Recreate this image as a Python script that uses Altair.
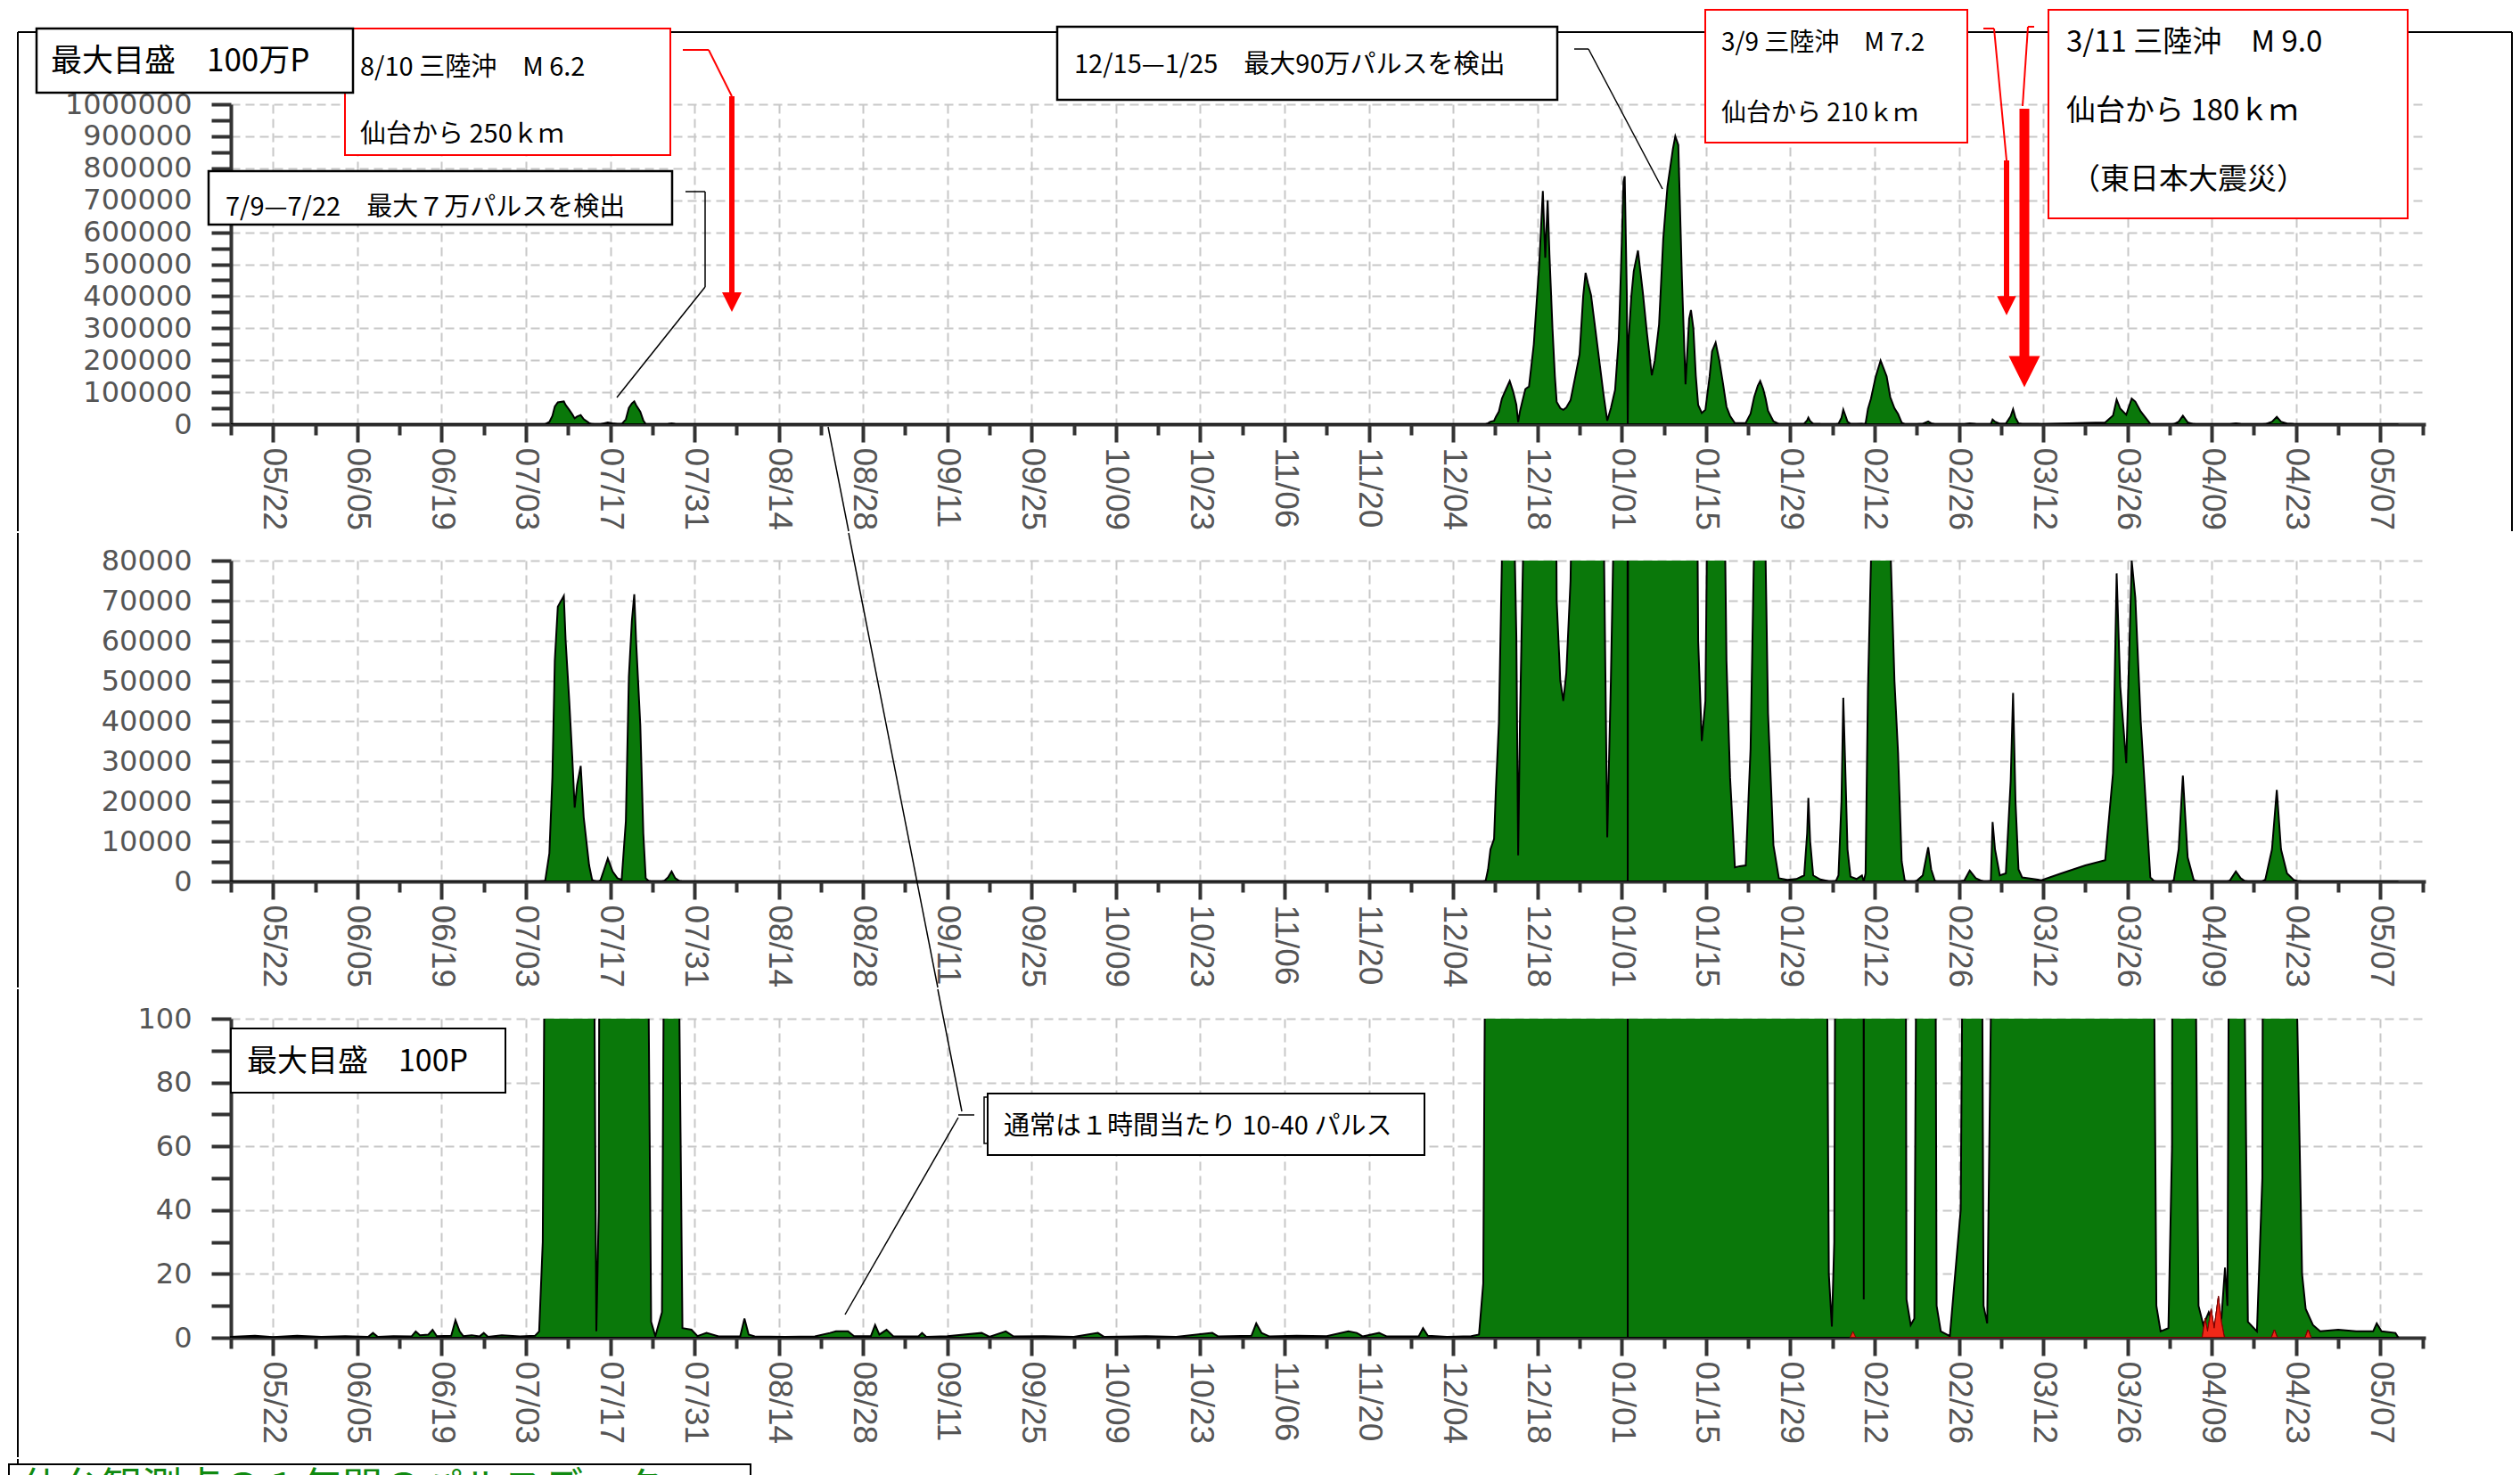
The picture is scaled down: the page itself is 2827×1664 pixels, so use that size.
import altair as alt
import pandas as pd

# ---------------- data (days counted from 2010-05-22, hourly pulse counts) ----------------
BASE_DATE = "2010-05-22"

EARLY_DAYS = [-7, -3, 0, 4, 8, 12, 15.8, 16.6, 17.4, 20, 23.0, 23.7, 24.4, 25.8, 26.5,
              27.2, 29.6, 30.3, 31.0, 31.6, 33.0, 34.3, 35.0, 35.7, 38.0, 41.0, 43.5, 44.2, 44.8]
EARLY_PULSES = [0.3, 0.6, 0.2, 0.6, 0.3, 0.5, 0.3, 1.5, 0.3, 0.5, 0.4, 2, 0.8, 1.0, 2.5,
                0.5, 0.6, 5.5, 2.0, 0.5, 0.8, 0.4, 1.5, 0.3, 0.8, 0.4, 0.6, 2.0, 30]

JULY_DAYS = [45.2, 45.9, 46.4, 46.8, 47.3, 48.3, 48.6, 49.2, 49.7, 50.1,
             50.5, 51.1, 51.6, 52.5, 53.0, 53.4, 53.7, 54.1, 54.4, 55.0,
             55.6, 56.4, 57.2, 57.9, 58.6, 59.1, 59.6, 60.0, 60.3, 61.0,
             61.5, 61.9, 62.4, 62.8, 63.5, 64.6, 65.0, 65.6, 66.2, 66.8, 67.5, 68.0]
JULY_PULSES = [150, 7000, 26000, 55000, 68500, 71200, 60000, 45000, 31000, 18400,
               24000, 28800, 16000, 4000, 400, 100, 2, 40, 300, 3000,
               5700, 2500, 800, 400, 15000, 51000, 65000, 71600, 60000, 39000,
               12000, 800, 100, 5, 0.5, 8, 150, 1000, 2500, 800, 100, 3]

QUIET_DAYS = [69.5, 70.5, 72.0, 74.0, 77.6, 78.3, 79.0, 80.0, 85.0, 90.0,
              92.5, 93.5, 95.5, 96.5, 99.3, 100.0, 100.7, 101.9, 103.0, 107.2,
              107.8, 108.5, 112.0, 117.7, 119.0, 121.7, 123.0, 128.0, 133.0, 137.0,
              138.0, 145.0, 150.0, 156.0, 157.0, 162.5, 163.3, 164.2, 165.5, 170.0,
              175.0, 178.6, 180.0, 181.0, 183.7, 185.0, 190.3, 191.0, 191.8, 195.0,
              199.0, 200.3, 201.0]
QUIET_PULSES = [2.5, 0.5, 1.5, 0.4, 0.5, 6.0, 1.0, 0.4, 0.3, 0.4,
                1.5, 2.0, 2.0, 0.5, 0.5, 4.0, 1.0, 2.5, 0.5, 0.4,
                1.5, 0.3, 0.5, 1.5, 0.3, 2.0, 0.4, 0.5, 0.3, 1.5,
                0.3, 0.5, 0.3, 1.5, 0.4, 0.6, 4.5, 1.5, 0.4, 0.6,
                0.5, 2.0, 1.5, 0.4, 1.5, 0.4, 0.5, 3.0, 0.6, 0.3,
                0.5, 1.0, 17]

WINTER_DAYS = [201.4, 201.8, 202.2, 202.8, 203.1, 203.6, 204.1, 204.8, 205.4, 206.0,
               206.5, 206.8, 207.1, 207.5, 208.0, 208.6, 209.4, 210.3, 210.9, 211.3,
               211.7, 212.0, 212.5, 212.9, 213.2, 213.8, 214.3, 214.8, 215.5, 216.3,
               217.0, 217.6, 218.0, 218.4, 218.9, 219.6, 220.4, 221.0, 221.6, 222.2,
               222.9, 223.5, 223.9, 224.3, 224.5, 224.85, 225.0, 225.15, 225.6, 226.0,
               226.7, 227.5, 228.2, 229.0, 229.5, 230.2, 230.9, 231.6, 232.5, 232.9,
               233.4, 234.0, 234.6, 235.2, 235.5, 235.9, 236.3, 236.7, 237.3, 237.9,
               238.6, 239.0, 239.6, 240.2, 240.8, 241.4, 242.0, 242.8, 243.6, 244.6,
               245.4, 246.0, 246.6, 247.0, 247.5, 247.9, 248.3, 249.2, 250.1]
WINTER_PULSES = [150, 3000, 8000, 10600, 22800, 39500, 80000, 110000, 135000, 100000,
                 61000, 6500, 40000, 72000, 110000, 118000, 250000, 500000, 729000, 520000,
                 700000, 530000, 300000, 150000, 70000, 50000, 45000, 52000, 75000, 150000,
                 218000, 400000, 473000, 440000, 404000, 300000, 180000, 90000, 11000, 50000,
                 107000, 265000, 497000, 757000, 775000, 404000, 0, 265000, 400000, 478000,
                 543000, 413000, 283000, 153000, 200000, 311000, 580000, 743000, 860000, 900000,
                 873000, 455000, 125000, 330000, 357000, 300000, 153000, 60000, 35000, 45000,
                 150000, 228000, 255000, 200000, 130000, 55000, 25800, 3500, 3800, 4000,
                 33000, 85000, 120000, 135000, 110000, 80000, 42000, 9000, 800]

SPRING_DAYS = [251.5, 253.0, 254.3, 254.8, 255.0, 255.3, 255.8, 257.0, 258.0, 258.4,
               258.9, 259.3, 259.6, 260.0, 260.5, 260.8, 261.1, 261.5, 262.0, 263.0,
               263.9, 264.2, 264.5, 264.9, 265.4, 266.2, 267.0, 268.0, 268.6, 269.3,
               269.9, 270.5, 271.0, 271.3, 272.0, 272.6, 273.0, 274.0, 274.9, 275.4,
               276.0, 276.3, 277.0, 278.5, 280.3, 280.9, 281.8, 282.8, 283.8, 284.1,
               284.7, 285.3, 285.6, 286.0, 286.8, 287.8, 288.6, 289.0, 289.4, 289.9,
               290.5, 293.7, 297.0, 301.0, 304.3, 305.6, 306.2, 306.8, 307.8, 308.7,
               309.3, 310.2, 311.8, 312.4, 312.8, 313.5, 314.8, 315.4, 315.7, 316.5,
               317.2, 318.0, 319.0, 319.4, 319.8, 320.6, 321.5, 322.5, 323.6, 324.2,
               324.6, 325.0, 326.0, 326.8, 327.5, 328.0, 329.5, 330.4, 330.9, 332.0,
               332.8, 333.5, 334.5, 335.6, 336.2, 337.0, 337.6, 338.8, 340.0, 343.0,
               346.0, 348.8, 349.4, 350.2, 352.5, 353.0]
SPRING_PULSES = [400, 600, 1500, 12000, 20800, 10000, 1500, 500, 150, 20,
                 3.5, 30, 200, 1500, 20000, 45800, 30000, 8000, 1200, 600,
                 1500, 12, 2000, 48000, 80000, 150000, 199000, 150000, 85000, 50000,
                 32000, 5000, 300, 12, 4, 6, 150, 1500, 8500, 3000,
                 200, 10, 2, 0.5, 40, 200, 2700, 800, 150, 10,
                 4.5, 100, 14800, 8000, 1500, 2000, 25000, 47000, 20000, 3000,
                 1000, 300, 2000, 4000, 5300, 27000, 76800, 48600, 29500, 80000,
                 70800, 40000, 1000, 120, 10, 2, 3, 60, 400, 8000,
                 26400, 6000, 400, 100, 10, 4, 8, 3, 6, 22,
                 10, 200, 2500, 800, 100, 5, 2, 50, 500, 8000,
                 22800, 8000, 2000, 400, 100, 20, 9, 4, 2, 2.5,
                 2, 2, 4.5, 2, 1.5, 0]

RED_SEG = [1] * 3 + [2] * 8 + [3] * 3 + [4] * 3
RED_DAYS = [261.9, 262.4, 262.9,
            320.4, 320.9, 321.3, 321.9, 322.4, 323.1, 323.6, 324.1,
            331.9, 332.4, 332.9,
            337.5, 338.0, 338.5]
RED_PULSES = [0, 2, 0,
              0, 6, 2, 9, 3, 13, 5, 0,
              0, 2.5, 0,
              0, 2.5, 0]

Y1_MAX, Y1_TICK, Y1_LABEL = 1000000, 50000, 100000
Y2_MAX, Y2_TICK, Y2_LABEL = 80000, 5000, 10000
Y3_MAX, Y3_TICK, Y3_LABEL = 100, 10, 20

DAYS = EARLY_DAYS + JULY_DAYS + QUIET_DAYS + WINTER_DAYS + SPRING_DAYS
PULSES = EARLY_PULSES + JULY_PULSES + QUIET_PULSES + WINTER_PULSES + SPRING_PULSES
assert len(DAYS) == len(PULSES)
assert len(RED_DAYS) == len(RED_PULSES) == len(RED_SEG)

# ---------------- helpers ----------------
T0 = int(pd.Timestamp(BASE_DATE, tz="UTC").value // 10**6)
DAY = 86400000


def ts(d):
    return T0 + int(round(d * DAY))


series = pd.DataFrame({"t": [ts(d) for d in DAYS], "v": PULSES})
red = pd.DataFrame({"t": [ts(d) for d in RED_DAYS], "v": RED_PULSES, "seg": RED_SEG})

X_DOMAIN = [ts(-7), ts(357.5)]
X_TICKS = [ts(d) for d in range(-7, 358, 7)]

GREEN = "#0a780a"
JP = "Noto Sans CJK JP"
VIEW_W = 2810          # each panel spans the page width (page x 8 .. 2818)
PLOT_X = [250, 2712]   # plot area inside the panel (page x 258 .. 2720)
AXC = "#333333"
LABC = "#555555"
GRIDC = "#c8c8c8"

MAJOR_X = f"round((datum.value - {T0}) / {DAY}) % 14 == 0"


def x_enc():
    return alt.X(
        "t:T", title=None,
        scale=alt.Scale(type="utc", domain=X_DOMAIN, range=PLOT_X, nice=False),
        axis=alt.Axis(
            values=X_TICKS,
            labelExpr=f"({MAJOR_X}) ? utcFormat(datum.value, '%m/%d') : ''",
            labelAngle=90, labelAlign="left", labelBaseline="middle",
            labelFont="Liberation Sans Narrow, Liberation Sans", labelFontSize=37,
            labelColor=LABC, labelPadding=6, labelOverlap=False, labelFlush=False,
            tickSize={"condition": {"test": MAJOR_X, "value": 20}, "value": 12},
            tickWidth=4, tickColor=AXC, domainColor=AXC, domainWidth=4,
            grid=True, gridColor=GRIDC, gridDash=[10, 6], gridWidth=2,
            gridOpacity={"condition": {"test": MAJOR_X, "value": 1}, "value": 0},
        ),
    )


def y_enc(ymax, step, lstep):
    test = f"datum.value % {lstep} == 0"
    return alt.Y(
        "v:Q", title=None,
        scale=alt.Scale(domain=[0, ymax], nice=False, zero=True),
        axis=alt.Axis(
            values=list(range(0, ymax + 1, step)),
            labelExpr=f"({test}) ? format(datum.value, 'd') : ''",
            labelFont="DejaVu Sans", labelFontSize=32, labelColor=LABC,
            labelPadding=22, labelOverlap=False, offset=-PLOT_X[0],
            tickSize=22, tickWidth=4, tickColor=AXC, domainColor=AXC, domainWidth=4,
            grid=True, gridColor=GRIDC, gridDash=[10, 6], gridWidth=2,
            gridOpacity={"condition": {"test": test, "value": 1}, "value": 0},
        ),
    )


def px(name):
    return alt.X(f"{name}:Q", scale=None, axis=None)


def py(name):
    return alt.Y(f"{name}:Q", scale=None, axis=None)


def lines_layer(rows, ox, oy):
    df = pd.DataFrame([{"x": a - ox, "y": b - oy, "x2": c - ox, "y2": d - oy, "c": col, "w": w}
                       for a, b, c, d, col, w in rows])
    return alt.Chart(df).mark_rule(strokeCap="butt").encode(
        x=px("x"), y=py("y"), x2=alt.X2("x2"), y2=alt.Y2("y2"),
        color=alt.Color("c:N", scale=None, legend=None),
        strokeWidth=alt.StrokeWidth("w:Q", scale=None, legend=None),
    )


def rects_layer(rows, ox, oy, clip=False):
    df = pd.DataFrame([{"x": a - ox, "x2": b - ox, "y": c - oy, "y2": d - oy, "c": col, "w": w}
                       for a, b, c, d, col, w in rows])
    return alt.Chart(df).mark_rect(fill="white", clip=clip).encode(
        x=px("x"), x2=alt.X2("x2"), y=py("y"), y2=alt.Y2("y2"),
        stroke=alt.Stroke("c:N", scale=None, legend=None),
        strokeWidth=alt.StrokeWidth("w:Q", scale=None, legend=None),
    )


def texts_layer(rows, ox, oy, baseline="middle", clip=False):
    df = pd.DataFrame([{"x": a - ox, "y": b - oy, "text": t, "s": s, "c": col}
                       for a, b, t, s, col in rows])
    return alt.Chart(df).mark_text(align="left", baseline=baseline, font=JP, clip=clip).encode(
        x=px("x"), y=py("y"), text=alt.Text("text:N"),
        size=alt.Size("s:Q", scale=None, legend=None),
        color=alt.Color("c:N", scale=None, legend=None),
    )


def heads_layer(rows, ox, oy):
    df = pd.DataFrame([{"x": a - ox, "y": b - oy, "s": s} for a, b, s in rows])
    return alt.Chart(df).mark_point(shape="M-1,-1L1,-1L0,1Z", filled=True, color="#ff0000",
                                    opacity=1, strokeWidth=0).encode(
        x=px("x"), y=py("y"), size=alt.Size("s:Q", scale=None, legend=None),
    )


def anchor_layer(y1, y2):
    # white hairline on the page's left edge: fixes the vertical band of the panel
    df = pd.DataFrame({"x": [0], "y": [y1], "x2": [0], "y2": [y2]})
    return alt.Chart(df).mark_rule(color="white", strokeWidth=0.5).encode(
        x=px("x"), y=py("y"), x2=alt.X2("x2"), y2=alt.Y2("y2"))


def area_layer(ymax, step, lstep):
    return alt.Chart(series).mark_area(fill=GREEN, stroke="black", strokeWidth=2, clip=True).encode(
        x=x_enc(), y=y_enc(ymax, step, lstep))


# ---------------- annotations (page coordinates) ----------------
O1 = (8, 116)
FRAME1 = [(19, 35, 2817, 35, "black", 2), (19, 35, 19, 595, "black", 2),
          (2817, 35, 2817, 595, "black", 2)]
RECTS1 = [(386, 751, 31, 173, "#ff0000", 2), (40, 395, 31, 103, "black", 2.5),
          (233, 753, 191, 251, "black", 2.5), (1185, 1746, 29, 111, "black", 2.5),
          (1912, 2206, 10, 159, "#ff0000", 2), (2297, 2700, 10, 244, "#ff0000", 2)]
TEXTS1 = [(56, 68, "最大目盛　100万P", 35, "black"),
          (403, 75, "8/10 三陸沖　M 6.2", 29, "black"),
          (403, 150, "仙台から 250ｋｍ", 29, "black"),
          (252, 232, "7/9—7/22　最大７万パルスを検出", 29, "black"),
          (1204, 72, "12/15—1/25　最大90万パルスを検出", 29, "black"),
          (1930, 48, "3/9 三陸沖　M 7.2", 28, "black"),
          (1930, 127, "仙台から 210ｋｍ", 28, "black"),
          (2317, 47, "3/11 三陸沖　M 9.0", 33, "black"),
          (2317, 124, "仙台から 180ｋｍ", 33, "black"),
          (2322, 201, "（東日本大震災）", 33, "black")]
CONNS1 = [(765, 55, 794, 55, "#ff0000", 2), (794, 55, 820, 107, "#ff0000", 2),
          (820, 107, 820, 330, "#ff0000", 6),
          (768, 214, 790, 214, "black", 1.5), (790, 214, 790, 321, "black", 1.5),
          (790, 321, 691, 445, "black", 1.5),
          (1765, 54, 1781, 54, "black", 1.5), (1781, 54, 1864, 211, "black", 1.5),
          (2224, 31, 2236, 31, "#ff0000", 2), (2236, 31, 2250, 179, "#ff0000", 2),
          (2250, 179, 2250, 334, "#ff0000", 6),
          (2281, 29, 2274, 29, "#ff0000", 2), (2274, 29, 2268, 118, "#ff0000", 2),
          (2270, 121, 2270, 400, "#ff0000", 11),
          (928, 478, 951, 595, "black", 1.5)]
HEADS1 = [(820, 338, 484), (2250, 342, 462), (2270, 416, 1225)]

O2 = (8, 626)
FRAME2 = [(19, 595, 19, 1105, "black", 2)]
CONNS2 = [(951, 595, 1051, 1105, "black", 1.5)]

O3 = (8, 1138)
FRAME3 = [(19, 1105, 19, 1630, "black", 2)]
RECTS3 = [(258, 566, 1149, 1221, "black", 2), (1103, 1500, 1226, 1278, "black", 1.5),
          (1107, 1597, 1222, 1291, "black", 2)]
TEXTS3 = [(276, 1187, "最大目盛　100P", 34, "black"),
          (1125, 1259, "通常は１時間当たり 10-40 パルス", 29, "black")]
CONNS3 = [(1051, 1105, 1078, 1242, "black", 1.5), (1074, 1246, 1092, 1246, "black", 1.5),
          (1074, 1249, 947, 1470, "black", 1.5)]

O4 = (8, 1630)
FRAME4 = [(19, 1630, 19, 1636, "black", 2)]
RECTS4 = [(9, 841, 1636, 1720, "black", 2)]
TEXTS4 = [(23, 1678, "仙台観測点の１年間のパルスデータ", 45, "#108a10")]

# ---------------- panels ----------------
p1 = alt.layer(
    area_layer(Y1_MAX, Y1_TICK, Y1_LABEL),
    anchor_layer(8 - O1[1], 595 - O1[1]),
    lines_layer(FRAME1, *O1),
    rects_layer(RECTS1, *O1),
    texts_layer(TEXTS1, *O1),
    lines_layer(CONNS1, *O1),
    heads_layer(HEADS1, *O1),
).properties(width=VIEW_W, height=359)

p2 = alt.layer(
    area_layer(Y2_MAX, Y2_TICK, Y2_LABEL),
    anchor_layer(595 - O2[1], 1105 - O2[1]),
    lines_layer(FRAME2, *O2),
    lines_layer(CONNS2, *O2),
).properties(width=VIEW_W, height=360)

red_area = alt.Chart(red).mark_area(fill="#f02818", stroke="#7a0000", strokeWidth=1, clip=True).encode(
    x=x_enc(), y=y_enc(Y3_MAX, Y3_TICK, Y3_LABEL), detail="seg:N")

p3 = alt.layer(
    area_layer(Y3_MAX, Y3_TICK, Y3_LABEL),
    red_area,
    anchor_layer(1105 - O3[1], 1630 - O3[1]),
    lines_layer(FRAME3, *O3),
    rects_layer(RECTS3, *O3),
    texts_layer(TEXTS3, *O3),
    lines_layer(CONNS3, *O3),
).properties(width=VIEW_W, height=358)

p4 = alt.layer(
    anchor_layer(0, 18),
    lines_layer(FRAME4, *O4),
    rects_layer(RECTS4, *O4, clip=True),
    texts_layer(TEXTS4, *O4, baseline="alphabetic", clip=True),
).properties(width=VIEW_W, height=18)

chart = alt.vconcat(p1, p2, p3, p4, spacing=0).properties(
    padding=0, background="white"
).configure_view(stroke=None)

chart.save("out.html", embed_options={"renderer": "svg", "actions": False})
